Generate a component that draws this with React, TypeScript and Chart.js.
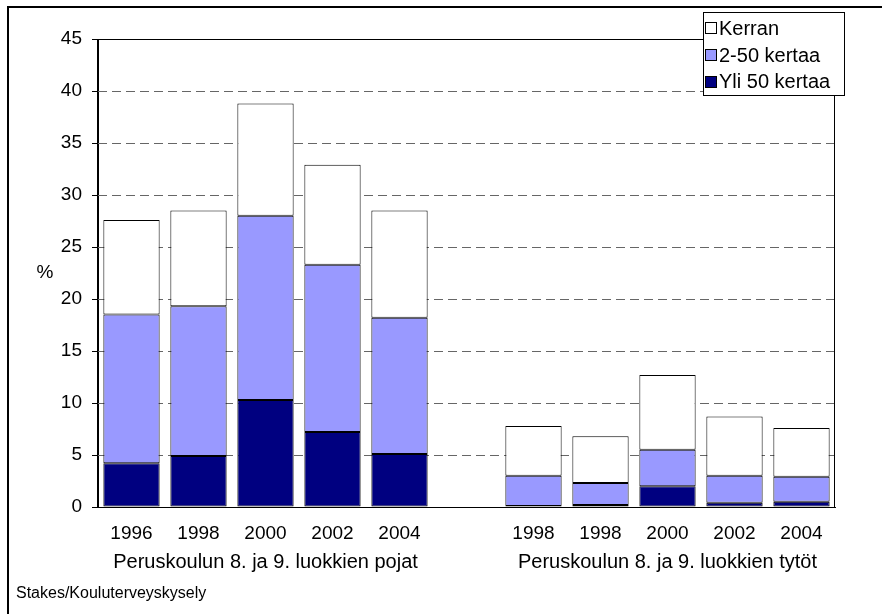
import React, { useEffect, useRef } from 'react';
import { Chart, registerables } from 'chart.js';

Chart.register(...registerables);

// ---- data ----
const categories = ['1996', '1998', '2000', '2002', '2004', '', '1998', '1998', '2000', '2002', '2004'];
const yli50Kertaa = [4.2, 4.9, 10.3, 7.2, 5.1, null, 0.1, 0.2, 2.0, 0.4, 0.5];
const kertaa2to50 = [14.3, 14.4, 17.7, 16.1, 13.1, null, 2.9, 2.1, 3.5, 2.6, 2.4];
const kerran = [9.1, 9.2, 10.8, 9.6, 10.3, null, 4.8, 4.5, 7.2, 5.7, 4.7];
const seriesNames = ['Yli 50 kertaa', '2-50 kertaa', 'Kerran'];
const seriesColors = ['#000080', '#9999FF', '#FFFFFF'];
const groupTitles = ['Peruskoulun 8. ja 9. luokkien pojat', 'Peruskoulun 8. ja 9. luokkien tytöt'];
const groupFirst = [0, 6];
const groupLast = [4, 10];
const yMin = 0;
const yMax = 45;
const yStep = 5;
const yAxisLabel = '%';
const sourceText = 'Stakes/Kouluterveyskysely';

const FONT = '"Liberation Sans", Arial, Helvetica, sans-serif';

const decorPlugin = {
  id: 'decor',
  beforeDatasetsDraw(chart: any) {
    const { ctx, chartArea: a, scales } = chart;
    const y = scales.y;
    ctx.save();
    ctx.strokeStyle = '#666666';
    ctx.lineWidth = 1;
    ctx.setLineDash([9, 5]);
    y.ticks.forEach((t: any) => {
      if (t.value <= yMin || t.value >= yMax) return;
      const py = Math.round(y.getPixelForValue(t.value)) + 0.5;
      ctx.beginPath();
      ctx.moveTo(a.left, py);
      ctx.lineTo(a.right, py);
      ctx.stroke();
    });
    ctx.restore();
  },
  afterDatasetsDraw(chart: any) {
    const { ctx, chartArea: a } = chart;
    ctx.save();
    ctx.strokeStyle = '#000000';
    ctx.lineWidth = 1;
    ctx.strokeRect(Math.round(a.left) - 0.5, Math.round(a.top) + 0.5, Math.round(a.right - a.left), Math.round(a.bottom - a.top));
    ctx.restore();
  },
  afterDraw(chart: any) {
    const { ctx, chartArea: a, scales } = chart;
    const x = scales.x;
    const y = scales.y;
    ctx.save();
    ctx.fillStyle = '#000000';

    // y axis label
    ctx.font = `19px ${FONT}`;
    ctx.textAlign = 'center';
    ctx.textBaseline = 'middle';
    ctx.fillText(yAxisLabel, a.left - 53, y.getPixelForValue((yMin + yMax) / 2));

    // group titles
    ctx.font = `20px ${FONT}`;
    groupTitles.forEach((t, i) => {
      const cx = (x.getPixelForValue(groupFirst[i]) + x.getPixelForValue(groupLast[i])) / 2;
      ctx.fillText(t, cx, a.bottom + 55);
    });

    // source
    ctx.font = `16px ${FONT}`;
    ctx.textAlign = 'left';
    ctx.fillText(sourceText, 16, a.bottom + 87);

    // legend
    const lx = 703.5;
    const ly = 12.5;
    const lw = 141;
    const lh = 83;
    ctx.fillStyle = '#FFFFFF';
    ctx.fillRect(lx, ly, lw, lh);
    ctx.strokeStyle = '#000000';
    ctx.lineWidth = 1;
    ctx.strokeRect(lx, ly, lw, lh);
    ctx.font = `20px ${FONT}`;
    ctx.textBaseline = 'middle';
    const order = [2, 1, 0];
    const rowY = [28, 55, 81.5];
    order.forEach((di, r) => {
      const cy = rowY[r];
      ctx.fillStyle = seriesColors[di];
      ctx.fillRect(705.5, Math.round(cy - 6) + 0.5, 11, 11);
      ctx.strokeStyle = '#000000';
      ctx.strokeRect(705.5, Math.round(cy - 6) + 0.5, 11, 11);
      ctx.fillStyle = '#000000';
      ctx.fillText(seriesNames[di], 719, cy + 1);
    });

    // outer border
    ctx.strokeStyle = '#000000';
    ctx.lineWidth = 2;
    ctx.beginPath();
    ctx.moveTo(8, 700);
    ctx.lineTo(8, 7);
    ctx.lineTo(1000, 7);
    ctx.stroke();
    ctx.restore();
  },
};

export default function App() {
  const canvasRef = useRef<HTMLCanvasElement | null>(null);

  useEffect(() => {
    if (!canvasRef.current) return;
    const seriesData = [yli50Kertaa, kertaa2to50, kerran];
    const chart = new Chart(canvasRef.current, {
      type: 'bar',
      data: {
        labels: categories,
        datasets: seriesData.map((d, i) => ({
          label: seriesNames[i],
          data: d,
          backgroundColor: seriesColors[i],
          borderColor: '#000000',
          borderWidth: 1,
          borderSkipped: false,
          barPercentage: 0.84,
          categoryPercentage: 1,
        })),
      },
      options: {
        responsive: false,
        animation: false,
        devicePixelRatio: 1,
        layout: { padding: { top: 39, right: 47, left: 0, bottom: 0 } },
        plugins: {
          legend: { display: false },
          tooltip: { enabled: false },
          title: { display: false },
        },
        scales: {
          x: {
            stacked: true,
            grid: { display: false, drawTicks: false },
            border: { display: true, color: '#000000', width: 1 },
            ticks: {
              color: '#000000',
              font: { family: FONT, size: 19 },
              padding: 15,
              autoSkip: false,
              maxRotation: 0,
              minRotation: 0,
            },
            afterFit(scale: any) {
              scale.height = 107;
            },
          },
          y: {
            stacked: true,
            min: yMin,
            max: yMax,
            grid: {
              display: true,
              drawOnChartArea: false,
              drawTicks: true,
              tickLength: 6,
              tickColor: '#000000',
            },
            border: { display: true, color: '#000000', width: 1 },
            ticks: {
              stepSize: yStep,
              color: '#000000',
              font: { family: FONT, size: 19 },
              padding: 10,
            },
            afterFit(scale: any) {
              scale.width = 98;
            },
          },
        },
      },
      plugins: [decorPlugin],
    });
    return () => chart.destroy();
  }, []);

  return (
    <div style={{ position: 'absolute', left: 0, top: 0, width: 882, height: 614, background: '#ffffff' }}>
      <canvas ref={canvasRef} width={882} height={614} style={{ display: 'block' }} />
    </div>
  );
}
